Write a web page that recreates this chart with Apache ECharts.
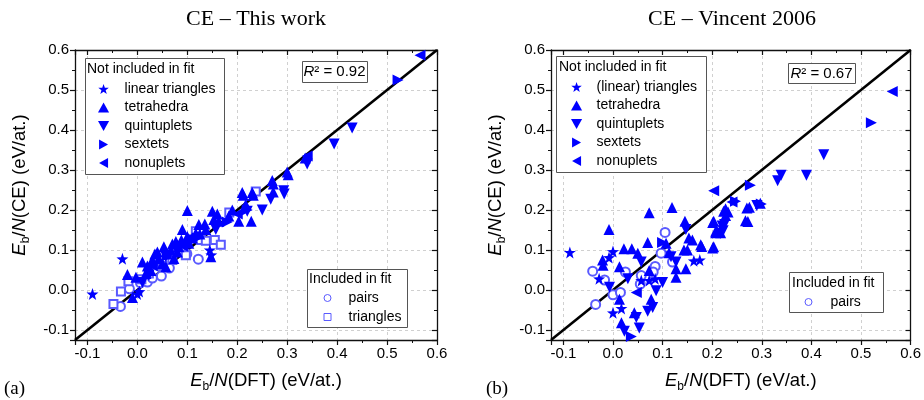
<!DOCTYPE html>
<html>
<head>
<meta charset="utf-8">
<script src="https://cdn.jsdelivr.net/npm/echarts@6/dist/echarts.min.js"></script>
<style>html,body{margin:0;padding:0;background:#fff}#c{width:924px;height:400px}</style>
</head>
<body>
<div id="c"></div>
<script>
// ---------- DATA: panel (a) CE – This work ----------
var a_linearTriangles = [[-0.09,-0.01],[-0.03,0.078],[0.0,-0.01],[0.004,-0.004],[0.145,0.10],[0.148,0.088]];
var a_tetrahedra = [[-0.02,0.039],[-0.01,-0.019],[-0.003,0.032],[0.01,0.07],[0.017,0.041],[0.027,0.049],[0.03,0.075],[0.043,0.079],[0.05,0.066],[0.053,0.108],[0.057,0.058],[0.067,0.10],[0.073,0.079],[0.077,0.121],[0.083,0.108],[0.09,0.151],[0.10,0.199],[0.10,0.134],[0.103,0.117],[0.117,0.142],[0.123,0.164],[0.137,0.151],[0.147,0.083],[0.15,0.197],[0.153,0.176],[0.163,0.172],[0.183,0.185],[0.203,0.172],[0.21,0.244],[0.212,0.237],[0.217,0.214],[0.228,0.172],[0.23,0.244],[0.232,0.237],[0.27,0.274],[0.272,0.265],[0.272,0.245],[0.30,0.295],[0.302,0.288],[0.336,0.33],[0.02,0.06],[0.035,0.09],[0.06,0.09],[0.07,0.115],[0.088,0.125],[0.11,0.13],[0.125,0.14],[0.135,0.165],[0.16,0.19],[0.19,0.2],[0.04,0.095],[0.08,0.095]];
var a_quintuplets = [[0.01,0.019],[0.023,0.036],[0.057,0.083],[0.08,0.096],[0.107,0.125],[0.157,0.151],[0.22,0.197],[0.25,0.20],[0.267,0.227],[0.293,0.248],[0.294,0.24],[0.34,0.315],[0.394,0.365],[0.43,0.405]];
var a_sextets = [[0.06,0.085],[0.12,0.13],[0.18,0.17],[0.22,0.20],[0.522,0.525]];
var a_nonuplets = [[0.03,0.06],[0.09,0.11],[0.2,0.19],[0.34,0.335],[0.566,0.587]];
var a_pairs = [[-0.034,-0.041],[-0.016,0.003],[0.006,0.018],[0.02,0.02],[0.03,0.03],[0.048,0.035],[0.064,0.055],[0.099,0.09],[0.122,0.077]];
var a_triangles = [[-0.048,-0.035],[-0.033,-0.004],[-0.018,0.022],[0.008,0.027],[0.023,0.041],[0.05,0.06],[0.07,0.075],[0.097,0.087],[0.117,0.147],[0.127,0.125],[0.137,0.123],[0.155,0.125],[0.167,0.113],[0.184,0.194],[0.237,0.246]];

// ---------- DATA: panel (b) CE – Vincent 2006 ----------
var b_linearTriangles = [[-0.087,0.094],[-0.008,0.081],[0.0,0.096],[-0.028,0.028],[0.0,-0.057],[0.017,-0.046],[0.057,0.024],[0.073,0.024],[0.085,0.028],[0.163,0.073],[0.175,0.075]];
var b_tetrahedra = [[-0.008,0.151],[0.073,0.193],[0.119,0.206],[0.022,0.103],[0.038,0.103],[0.07,0.119],[0.145,0.172],[0.143,0.10],[0.15,0.10],[0.177,0.113],[0.203,0.108],[0.203,0.172],[0.223,0.197],[0.207,0.147],[-0.02,0.062],[-0.021,0.075],[0.013,0.058],[0.05,0.092],[0.113,0.093],[0.127,0.053],[0.147,0.053],[0.127,0.032],[0.073,0.049],[0.013,-0.023],[0.017,-0.082],[0.043,-0.057],[0.077,-0.023],[0.107,0.117],[0.153,0.13],[0.16,0.125],[0.297,0.217],[0.27,0.205],[0.267,0.173],[0.272,0.171],[0.227,0.203],[0.227,0.186],[0.201,0.169],[0.207,0.143],[0.217,0.143],[0.179,0.109],[0.201,0.105],[0.275,0.207],[0.232,0.195]];
var b_quintuplets = [[-0.007,0.007],[0.03,0.028],[0.147,0.151],[0.225,0.164],[0.217,0.142],[0.08,-0.044],[0.07,-0.053],[0.047,-0.069],[0.023,-0.103],[0.053,-0.095],[0.1,0.019],[0.087,-0.002],[0.127,0.07],[0.057,0.07],[0.117,0.083],[0.425,0.338],[0.39,0.287],[0.339,0.287],[0.332,0.273],[0.29,0.211],[0.22,0.16],[0.222,0.148]];
var b_sextets = [[0.037,-0.116],[0.1,0.119],[0.277,0.262],[0.299,0.215],[0.521,0.418],[0.247,0.222]];
var b_nonuplets = [[0.203,0.248],[0.047,-0.006],[0.24,0.22],[0.563,0.496]];
var b_pairs = [[-0.041,0.047],[-0.017,0.025],[-0.035,-0.036],[0.0,-0.012],[0.015,-0.006],[0.025,0.045],[0.055,0.015],[0.057,0.036],[0.085,0.059],[0.097,0.092],[0.105,0.144],[0.12,0.07],[0.081,0.045]];

// parity line y = x over axis range
var parityLine = [[-0.125,-0.125],[0.6,0.6]];
var axisMin = -0.125, axisMax = 0.6;
var titles = ['CE \u2013 This work', 'CE \u2013 Vincent 2006'];
var r2Labels = ['0.92', '0.67'];
var panelLetters = ['(a)', '(b)'];

// ---------- STYLE ----------
var BLUE = '#0000ff', HOLLOW = '#5a5aff';
var SANS = 'Liberation Sans', SERIF = 'Liberation Serif';
var STAR = 'path://M0,-10L2.35,-3.24L9.51,-3.09L3.8,1.24L5.88,8.09L0,4L-5.88,8.09L-3.8,1.24L-9.51,-3.09L-2.35,-3.24Z';
var ICON_UP = 'path://M5,0L10,9L0,9Z';
var ICON_DOWN = 'path://M0,0L10,0L5,9Z';
var ICON_RIGHT = 'path://M0,0L9,5L0,10Z';
var ICON_LEFT = 'path://M9,0L9,10L0,5Z';
var ICON_CIRCLE = 'path://M5,0A5,5,0,1,1,5,10A5,5,0,1,1,5,0Z';
var ICON_SQUARE = 'path://M0,0L10,0L10,10L0,10Z';

var grids = [
  {left: 75, top: 50, width: 362, height: 290},
  {left: 551, top: 50, width: 362, height: 290}
];

function fmt(v){ return (Math.round(v*10)/10).toFixed(1); }
var nameRich = {
  i: {fontFamily: SANS, fontSize: 18.5, fontStyle: 'italic', color: '#000', lineHeight: 24, verticalAlign: 'middle'},
  s: {fontFamily: SANS, fontSize: 12, color: '#000', lineHeight: 12, verticalAlign: 'bottom'},
  n: {fontFamily: SANS, fontSize: 18.5, color: '#000', lineHeight: 24, verticalAlign: 'middle'}
};
function mainAxis(gi, pos, name){
  var isX = (pos === 'bottom');
  return {
    type: 'value', gridIndex: gi, position: pos, min: axisMin, max: axisMax, splitNumber: 7,
    name: name, nameLocation: 'middle', nameGap: isX ? 29 : 43,
    nameTextStyle: {rich: nameRich, padding: [0, 0, 0, 20]},
    axisLine: {show: true, onZero: false, lineStyle: {color: '#111', width: 1.3}},
    axisTick: {show: true, inside: false, length: 5, lineStyle: {color: '#111', width: 1.2}},
    minorTick: {show: true, splitNumber: 2, length: 3, lineStyle: {color: '#111', width: 1}},
    axisLabel: {show: true, formatter: fmt, showMinLabel: false, fontFamily: SANS, fontSize: 15, color: '#000', margin: 6},
    splitLine: {show: true, lineStyle: {color: '#d0d0d0', type: [3,3], width: 1}}
  };
}
function mirrorAxis(gi, pos){
  return {
    type: 'value', gridIndex: gi, position: pos, min: axisMin, max: axisMax, splitNumber: 7,
    axisLine: {show: true, onZero: false, lineStyle: {color: '#111', width: 1.3}},
    axisTick: {show: true, inside: true, length: 5, lineStyle: {color: '#111', width: 1.2}},
    minorTick: {show: true, splitNumber: 2, length: 3, lineStyle: {color: '#111', width: 1}},
    axisLabel: {show: false}, splitLine: {show: false}
  };
}
var xName = '{i|E}{s|b}{n|/}{i|N}{n|(DFT) (eV/at.)}';
var yName = '{i|E}{s|b}{n|/}{i|N}{n|(CE) (eV/at.)}';

var xAxes = [mainAxis(0,'bottom',xName), mirrorAxis(0,'top'), mainAxis(1,'bottom',xName), mirrorAxis(1,'top')];
var yAxes = [mainAxis(0,'left',yName), mirrorAxis(0,'right'), mainAxis(1,'left',yName), mirrorAxis(1,'right')];

function filled(name, data, sym, rot, size, xi, yi){
  return {type: 'scatter', name: name, data: data, xAxisIndex: xi, yAxisIndex: yi, symbol: sym,
    symbolRotate: rot, symbolSize: size, itemStyle: {color: BLUE, opacity: 1}, z: 3};
}
function hollow(name, data, sym, size, xi, yi){
  return {type: 'scatter', name: name, data: data, xAxisIndex: xi, yAxisIndex: yi, symbol: sym,
    symbolSize: size, itemStyle: {color: HOLLOW, opacity: 1, borderWidth: 1}, z: 2};
}
function line(data, xi, yi){
  return {type: 'line', data: data, xAxisIndex: xi, yAxisIndex: yi, symbol: 'none', silent: true,
    lineStyle: {color: '#000', width: 2.6}, z: 1, legendHoverLink: false};
}
var series = [
  line(parityLine, 0, 0),
  hollow('pairs', a_pairs, 'emptyCircle', 9, 0, 0),
  hollow('triangles', a_triangles, 'emptyRect', 8, 0, 0),
  filled('tetrahedra', a_tetrahedra, 'triangle', 0, 11, 0, 0),
  filled('quintuplets', a_quintuplets, 'triangle', 180, 11, 0, 0),
  filled('sextets', a_sextets, 'triangle', -90, 11, 0, 0),
  filled('nonuplets', a_nonuplets, 'triangle', 90, 11, 0, 0),
  filled('linear triangles', a_linearTriangles, STAR, 0, 12, 0, 0),
  line(parityLine, 2, 2),
  hollow('pairs', b_pairs, 'emptyCircle', 9, 2, 2),
  filled('tetrahedra', b_tetrahedra, 'triangle', 0, 11, 2, 2),
  filled('quintuplets', b_quintuplets, 'triangle', 180, 11, 2, 2),
  filled('sextets', b_sextets, 'triangle', -90, 11, 2, 2),
  filled('nonuplets', b_nonuplets, 'triangle', 90, 11, 2, 2),
  filled('(linear) triangles', b_linearTriangles, STAR, 0, 12, 2, 2)
];

var hollowIconStyle = {color: '#fff', borderColor: HOLLOW, borderWidth: 1};
function legend(items, left, top, w, h, gap){
  return {data: items, orient: 'vertical', left: left, top: top, padding: 0, itemWidth: w, itemHeight: h,
    itemGap: gap, selectedMode: false, symbolKeepAspect: true, symbolRotate: 0, z: 20,
    textStyle: {fontFamily: SANS, fontSize: 14, color: '#000', lineHeight: 16}};
}
var legends = [
  legend([{name: 'linear triangles', icon: STAR}, {name: 'tetrahedra', icon: ICON_UP}, {name: 'quintuplets', icon: ICON_DOWN},
          {name: 'sextets', icon: ICON_RIGHT}, {name: 'nonuplets', icon: ICON_LEFT}], 98, 81, 32, 10, 2.5),
  legend([{name: 'pairs', icon: ICON_CIRCLE, itemStyle: hollowIconStyle}, {name: 'triangles', icon: ICON_SQUARE, itemStyle: hollowIconStyle}], 323.5, 290, 32, 7, 3),
  legend([{name: '(linear) triangles', icon: STAR}, {name: 'tetrahedra', icon: ICON_UP}, {name: 'quintuplets', icon: ICON_DOWN},
          {name: 'sextets', icon: ICON_RIGHT}, {name: 'nonuplets', icon: ICON_LEFT}], 571, 79, 30, 10, 2.5),
  legend([{name: 'pairs', icon: ICON_CIRCLE, itemStyle: hollowIconStyle}], 804.5, 294, 34, 7, 3)
];

function box(x, y, w, h){
  return {type: 'rect', shape: {x: x+0.5, y: y+0.5, width: w, height: h}, style: {fill: '#fff', stroke: '#555', lineWidth: 1}, z: 5};
}
function txt(text, x, y, opts){
  var s = {text: text, x: x, y: y, fill: '#000', font: '14px "' + SANS + '"', align: 'left', verticalAlign: 'middle'};
  for (var k in opts) s[k] = opts[k];
  return {type: 'text', style: s, z: 10};
}
var r2Rich = {i: {fontStyle: 'italic', fontFamily: SANS, fontSize: 15}, n: {fontFamily: SANS, fontSize: 15}};
var graphics = [
  box(85, 58, 139, 116), txt('Not included in fit', 87, 69, {}),
  box(307, 269, 100, 58), txt('Included in fit', 309, 279, {}),
  box(556, 56, 150, 116), txt('Not included in fit', 559, 67, {}),
  box(789, 272, 94, 40), txt('Included in fit', 792, 283, {}),
  box(302, 61, 65, 21), txt('{i|R}{n|\u00b2 = ' + r2Labels[0] + '}', 334.5, 72, {align: 'center', rich: r2Rich}),
  box(788, 63, 67, 20), txt('{i|R}{n|\u00b2 = ' + r2Labels[1] + '}', 821.5, 73.5, {align: 'center', rich: r2Rich}),
  txt(titles[0], 256, 19, {align: 'center', font: '22px "' + SERIF + '"'}),
  txt(titles[1], 732, 19, {align: 'center', font: '22px "' + SERIF + '"'}),
  txt(panelLetters[0], 4, 389, {font: '19px "' + SERIF + '"'}),
  txt(panelLetters[1], 486, 389, {font: '19px "' + SERIF + '"'})
];

var chart = echarts.init(document.getElementById('c'), null, {renderer: 'canvas'});
chart.setOption({
  animation: false,
  backgroundColor: '#fff',
  grid: grids,
  xAxis: xAxes,
  yAxis: yAxes,
  legend: legends,
  series: series,
  graphic: {elements: graphics, z: 5}
});
</script>
</body>
</html>
